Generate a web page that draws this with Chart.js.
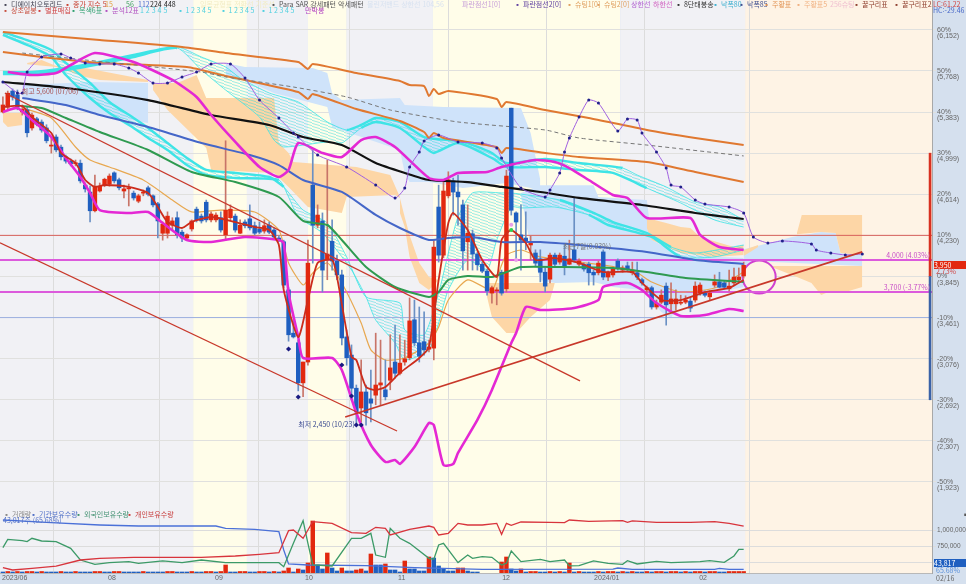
<!DOCTYPE html>
<html lang="ko">
<head>
<meta charset="utf-8">
<title>디에이치오토리드</title>
<script src="https://cdn.jsdelivr.net/npm/chart.js@4"></script>
<style>
html, body { margin: 0; padding: 0; background: #d5e0ee; overflow: hidden; }
#wrap { position: relative; width: 966px; height: 584px; font-family: "Noto Sans CJK KR", "Noto Sans", sans-serif; }
#main { position: absolute; left: 0; top: 0; }
#sub { position: absolute; left: 0; top: 509px; }
.t { position: absolute; font-size: 7px; line-height: 7px; white-space: nowrap; color: #444; }
</style>
</head>
<body>
<div id="wrap">
<canvas id="main" width="966" height="509" style="width:966px;height:509px"></canvas>
<canvas id="sub" width="966" height="75" style="width:966px;height:75px"></canvas>
<div id="labels"></div>
</div>
<script>
// 일봉 시가/고가/저가/종가
const opens = [5385,5430,5580,5545,5385,5405,5235,5320,5290,5235,5065,5150,5055,4965,4925,4900,4905,4700,4635,4460,4645,4700,4710,4815,4750,4645,4665,4625,4550,4625,4675,4600,4525,4250,4250,4325,4395,4260,4205,4290,4475,4410,4540,4375,4375,4395,4235,4395,4410,4250,4355,4385,4320,4290,4270,4325,4280,4205,4170,3720,3315,3225,2850,3045,4700,4325,4365,4000,4175,3990,3860,3280,3110,2800,2615,2765,2700,2735,2830,2785,2875,3045,2940,3045,3085,3440,3225,3235,3165,3175,4495,4045,4600,4740,4635,4515,4170,4245,4055,3960,3895,3690,3710,3885,3730,5420,4440,4235,4205,4140,4065,4010,3885,3820,4045,3980,4035,3960,4095,3960,3955,3960,3885,3880,4075,3840,3860,3990,3905,3945,3880,3880,3815,3720,3740,3560,3605,3755,3590,3590,3595,3605,3615,3625,3690,3690,3655,3765,3795,3785,3730,3785,3815,3850];
const highs = [5525,5580,5600,5590,5450,5430,5375,5335,5310,5265,5140,5170,5075,4980,4945,4935,4935,4720,4690,4795,4720,4765,4805,4825,4765,4700,4710,4645,4615,4655,4690,4610,4540,4355,4450,4395,4450,4280,4245,4375,4495,4430,4560,4450,4440,4450,5115,4515,4430,4375,4375,4515,4355,4355,4375,4355,4300,4225,4185,3740,3440,3250,3045,4185,5030,4515,4440,4935,4375,4045,3905,3345,3205,2830,3065,2830,2970,3315,3250,3065,3300,3390,3300,3250,3645,3625,3560,3515,3250,4185,4700,4750,4825,4765,4795,4560,4515,4280,4075,3980,3915,3755,3740,3905,4840,5420,4450,4515,4450,4225,4095,4095,3925,4065,4065,4065,4140,4185,4580,4010,3970,3980,3905,3990,4095,3895,3935,4010,3945,3980,3980,3980,3830,3755,3755,3625,3720,3785,3785,3720,3670,3665,3645,3795,3785,3710,3710,3860,3885,3805,3905,3925,3925,3980];
const lows = [5375,5405,5495,5405,5355,5150,5215,5255,5195,5095,5000,5010,4935,4905,4880,4880,4720,4635,4355,4450,4635,4685,4690,4720,4655,4580,4505,4560,4535,4600,4600,4495,4205,4185,4205,4280,4205,4170,4185,4270,4355,4345,4355,4355,4355,4260,4185,4375,4260,4245,4300,4280,4235,4245,4250,4245,4195,4170,3740,3240,3270,2775,2720,3015,3970,4300,3700,3815,3905,3815,3205,3015,2690,2450,2485,2455,2485,2645,2645,2690,2785,2895,2925,3015,3065,3195,3045,3110,3140,3065,3980,4020,4580,4420,4325,3905,3905,3905,3905,3880,3670,3595,3580,3670,3700,4420,4000,3905,4095,4000,3945,3795,3700,3785,3945,3960,3860,3955,3980,3945,3895,3765,3765,3860,3815,3805,3840,3905,3885,3895,3860,3815,3765,3700,3540,3540,3590,3390,3515,3530,3580,3590,3515,3605,3670,3655,3625,3745,3740,3730,3710,3765,3795,3830];
const closes = [5450,5560,5525,5430,5410,5190,5355,5270,5215,5115,5075,5030,4965,4925,4900,4905,4740,4665,4460,4690,4690,4755,4785,4740,4675,4665,4675,4580,4600,4635,4615,4515,4365,4335,4410,4365,4235,4205,4235,4365,4375,4365,4375,4430,4420,4280,4465,4475,4280,4325,4320,4300,4250,4260,4320,4260,4215,4185,3765,3300,3280,2850,3045,3970,4325,4420,3905,4055,3990,3860,3270,3085,2800,2580,2765,2570,2660,2830,2850,2720,2990,2940,3035,3075,3430,3225,3100,3160,3185,4120,4045,4645,4750,4635,4590,4085,4250,4055,3955,3895,3710,3740,3720,3690,4785,4465,4355,4185,4175,4160,3970,3885,3755,4045,3960,4045,3945,4010,4000,3990,3915,3880,3860,3970,3840,3880,3915,3925,3925,3915,3905,3840,3785,3740,3560,3595,3670,3580,3635,3635,3605,3625,3550,3755,3765,3670,3690,3795,3745,3745,3755,3840,3840,3950];

// 이동평균선 [봉 번호, 가격]
const ma5 = [[0,5431],[4,5440],[6,5337],[10,5188],[12,5001],[15,4907],[17,4748],[19,4683],[21,4701],[26,4683],[30,4627],[32,4495],[34,4355],[37,4299],[39,4355],[43,4402],[48,4355],[52,4308],[55,4280],[57,4140],[58,3719],[61,3279],[63,3625],[65,3972],[68,4000],[69,3841],[72,3092],[73,3064],[75,2812],[77,2784],[79,2812],[82,2943],[86,3083],[88,3186],[90,3813],[92,4346],[93,4439],[96,4280],[99,4000],[102,3841],[103,4187],[105,4280],[108,4159],[110,4000],[114,4018],[119,3972],[124,3887],[130,3887],[132,3785],[136,3625],[140,3625],[145,3700],[150,3738],[153,3813]];
const ma15 = [[4,5422],[10,5328],[15,5057],[18,4935],[22,4870],[29,4748],[35,4561],[39,4449],[45,4467],[52,4449],[57,4280],[59,3972],[62,3766],[64,3878],[67,3972],[70,3785],[74,3410],[76,3158],[79,3064],[83,3083],[88,3223],[90,3373],[92,3625],[96,3813],[101,3719],[103,3953],[104,4047],[107,4093],[111,4028],[119,3981],[130,3906],[134,3794],[140,3700],[147,3738],[153,3887]];
const ma56 = [[4,5440],[8,5422],[13,5328],[20,5197],[30,5029],[39,4823],[48,4729],[57,4589],[62,4365],[67,4327],[70,4187],[75,3934],[81,3747],[88,3654],[90,3700],[92,3813],[96,3850],[101,3841],[104,3887],[107,3934],[115,3934],[126,3925],[133,3887],[141,3831],[153,3794]];
const ma112 = [[4,5515],[13,5450],[20,5356],[30,5244],[41,5094],[51,4982],[57,4888],[62,4748],[70,4636],[77,4421],[82,4299],[88,4187],[92,4206],[97,4215],[103,4168],[111,4168],[119,4140],[133,4075],[143,4000],[153,3962]];
const ma224 = [[0,5665],[13,5609],[30,5496],[43,5356],[55,5263],[62,5150],[70,5075],[77,4907],[83,4814],[88,4748],[96,4729],[103,4683],[111,4636],[119,4580],[132,4514],[143,4439],[153,4383]];
const ma448 = [[0,6132],[20,6058],[37,5992],[46,5936],[61,5852],[63,5787],[64,5833],[73,5749],[82,5674],[84,5637],[87,5627],[88,5534],[89,5599],[90,5553],[92,5581],[102,5506],[103,5431],[104,5478],[112,5403],[121,5328],[133,5216],[143,5141],[153,5075]];
const envMid = [[0,5945],[8,5899],[20,5843],[38,5805],[46,5721],[50,5684],[61,5571],[63,5506],[64,5553],[73,5412],[82,5300],[87,5197],[88,5141],[89,5188],[91,5141],[102,5057],[103,5001],[104,5047],[112,5001],[119,4963],[133,4916],[143,4823],[153,4729]];
const dashedLine = [[4,5936],[17,5871],[41,5758],[46,5712],[60,5618],[71,5525],[80,5403],[94,5291],[112,5216],[119,5141],[133,5075],[153,4973]];

// 볼린저 상/하한
const bbUpper = [[1,5758],[6,5730],[11,5749],[14,5824],[19,5936],[27,5852],[35,5684],[40,5525],[43,5356],[48,5104],[53,4870],[57,4776],[59,4842],[61,5094],[66,5001],[70,4963],[74,5122],[77,5150],[81,5057],[88,4767],[91,4748],[94,4814],[100,4823],[103,4870],[110,4935],[114,4916],[117,4860],[121,4748],[126,4608],[129,4580],[133,4393],[142,4393],[144,4234],[148,4121],[153,4093]];
const bbLower = [[0,5384],[3,5422],[6,5309],[10,5150],[13,4954],[16,4776],[18,4627],[20,4467],[26,4439],[30,4449],[33,4346],[38,4187],[43,4168],[50,4215],[57,4187],[58,4159],[59,3691],[61,3279],[62,3083],[68,3083],[70,2971],[73,2568],[76,2269],[79,2110],[81,2129],[82,2091],[85,2250],[88,2475],[89,2456],[91,2082],[93,2091],[94,2194],[98,2503],[101,2784],[105,3223],[106,3317],[108,3560],[111,3532],[118,3551],[123,3625],[124,3747],[129,3785],[132,3719],[135,3597],[140,3476],[145,3485],[150,3541],[153,3523]];

// Para SAR (점선)
const paraSar = [[0,5665],[3,5562],[4,5562],[5,5758],[8,5899],[12,5927],[14,5889],[17,5843],[20,5833],[23,5833],[26,5796],[28,5749],[31,5656],[34,5656],[37,5712],[40,5758],[43,5833],[47,5833],[50,5702],[53,5496],[57,5328],[60,5188],[61,5150],[65,4982],[71,4870],[77,4701],[81,4580],[83,4673],[84,4870],[86,5010],[87,5113],[90,5169],[94,5104],[99,5094],[102,5047],[103,4954],[107,4673],[112,4589],[113,4655],[115,4814],[116,5010],[117,5141],[119,5337],[121,5496],[123,5468],[127,5206],[129,5319],[131,5309],[132,5188],[135,5010],[137,4860],[138,4701],[140,4683],[143,4561],[145,4523],[150,4495],[153,4439],[155,4215],[158,4159],[161,4178],[167,4150],[168,4093],[171,4065],[174,4047],[177.5,4056]];

// 옥색 리본 두 묶음의 바깥선
const ribbonLongA = [[0,5758],[6,5758],[13,5796],[20,5852],[27,5917],[36,5992],[41,5899],[46,5805],[49,5702],[55,5562],[61,5478],[67,5291],[71,5216],[74,5263],[77,5328],[82,5291],[87,5150],[95,5104],[101,5001],[104,4907],[112,4944],[119,4907],[128,4860],[131,4795],[137,4683],[143,4542],[148,4495],[153,4374]];
const ribbonLongB = [[0,5740],[6,5740],[13,5777],[20,5833],[27,5899],[36,5983],[41,5777],[46,5590],[53,5337],[56,5122],[58,5057],[67,5104],[70,5094],[74,5235],[77,5291],[82,5235],[87,5057],[89,5001],[94,5094],[101,4954],[104,4870],[112,4870],[119,4842],[126,4814],[133,4673],[140,4533],[147,4374],[153,4308]];
const ribbonShortA = [[0,6132],[6,6039],[10,5964],[13,5843],[18,5656],[22,5478],[27,5328],[30,5235],[34,5094],[38,4954],[42,4842],[48,4814],[55,4776],[58,4683],[62,4467],[67,4346],[71,4028],[75,3654],[82,3597],[83,3345],[87,3300],[90,3691],[92,4065],[94,4402],[97,4627],[103,4627],[105,4627],[115,4561],[122,4440],[126,4355],[133,4252],[138,4121],[143,4065],[153,4140]];
const ribbonShortB = [[0,6105],[6,5992],[10,5899],[13,5730],[18,5515],[22,5375],[27,5235],[30,5141],[34,5029],[38,4888],[42,4795],[48,4767],[57,4748],[59,4589],[61,4402],[66,4252],[72,3906],[75,3654],[77,3438],[81,3223],[83,3064],[88,3158],[90,3410],[92,3719],[96,4000],[100,3906],[102,4187],[105,4495],[107,4486],[114,4495],[121,4421],[125,4327],[134,4215],[140,4028],[147,4028],[153,4093]];
// 리본 선이 두껍게 뭉쳐 보이는 구간 [시작 봉, 끝 봉]
const longThick = [[0,36],[71,128]];
const shortThick = [[0,57],[115,135]];

// 일목 구름 조각 (윗선, 아랫선)
const cloudOrange1Top = [[0,5375],[4,5375]];
const cloudOrange1Bot = [[0,5291],[1,5244],[4,5263]];
const cloudOrange2Top = [[5,5843],[8,5871],[11,5815],[17,5796],[30,5684]];
const cloudOrange2Bot = [[5,5830],[11,5805],[17,5712],[20,5684],[30,5665]];
const cloudBlue1Top = [[4,5637],[18,5665],[30,5655]];
const cloudBlue1Bot = [[4,5515],[12,5450],[20,5356],[30,5281]];
const cloudOrange3Top = [[31,5655],[36,5655],[40,5730],[42,5515],[56,5515],[57,5094],[59,5001],[60,4916],[73,4870],[80,4795],[82,4589]];
const cloudOrange3Bot = [[31,5590],[34,5403],[42,5047],[43,4842],[56,4814],[59,4683],[63,4495],[70,4440],[71,4589],[81,4608],[82,4580]];
const cloudOrange4Top = [[82,4580],[83,4400],[84,4230],[86,3972],[88,3841],[90,3813]];
const cloudOrange4Bot = [[82,4440],[83,4308],[84,4028],[86,3785],[88,3719],[90,3810]];
const cloudOrange5Top = [[100,3785],[114,3785]];
const cloudOrange5Bot = [[100,3654],[101,3466],[104,3317],[106,3317],[109,3466],[113,3625],[114,3785]];
const cloudBlue2Top = [[46,5843],[50,5805],[64,5796],[67,5749],[68,5562],[70,5496],[82,5515],[83,5450],[91,5431],[107,5422],[109,5188],[111,4748]];
const cloudBlue2Bot = [[46,5721],[50,5684],[56,5562],[67,5431],[68,5244],[71,5197],[82,5029],[83,4814],[84,4729],[88,4729],[95,4673],[104,4720],[111,4655]];
const cloudBlue3Top = [[107,4627],[111,4700],[122,4700],[123,4590],[133,4561],[134,4187],[140,4047],[153,4018]];
const cloudBlue3Bot = [[107,4600],[109,4121],[111,3813],[114,3785],[122,3794],[126,3747],[132,3719],[136,3513],[138,3457],[140,3625],[153,3747]];
const cloudOrange6Top = [[133,4393],[137,4346],[140,4308],[142,4299],[144,4215],[151,4121],[153,4140]];
const cloudOrange6Bot = [[133,4300],[134,4187],[140,4065],[147,4028],[153,4047]];
const cloudOrange7Top = [[153,4093],[156,4140]];
const cloudOrange7Bot = [[153,4037],[156,4121]];
const cloudBlue4Top = [[153,4100],[155,4121],[163,4215],[169,4261],[172,4252],[173,4065],[177.5,4047]];
const cloudBlue4Bot = [[153,3760],[155,4000],[159,3981],[177.5,3944]];
const cloudOrange8Top = [[164,4252],[165,4420],[177.5,4420]];
const cloudOrange8Bot = [[164,4240],[169,4261],[172,4252],[173,4065],[177.5,4047]];
const cloudOrange9Top = [[159,3944],[177.5,3944]];
const cloudOrange9Bot = [[159,3930],[163,3860],[167,3785],[169,3672],[170,3690],[174,3700],[177.5,3747]];

// 추세선, 수평선
const trendLow = [[-0.6,4160],[81.4,2400]];
const trendHigh = [[0.4,5562],[119.2,2868]];
const trendUp = [[70.7,2531],[177.5,4075]];
const xEnd = 191.9;
const resist4000 = [[-0.6,4000],[xEnd,4000]];
const support3700 = [[-0.6,3700],[xEnd,3700]];
const pct10Line = [[-0.6,4230],[xEnd,4230]];
const pctM10Line = [[-0.6,3461],[xEnd,3461]];
const circleMark = [[156.2,3840]];
const starMarks = [[59,3167],[61,2718],[70,3017],[72,2727],[73,2456],[74,2456]];
const pinkMarks = [[105,4330],[106,4000]];
const greenMarks = [[105,4280]];

// 축
const tickPct = [60,50,40,30,20,10,0,-10,-20,-30,-40,-50];
const tickPrice = [6152,5768,5383,4999,4614,4230,3845,3461,3076,2692,2307,1923];
const monthTicks = [-0.6,21.3,43.4,62,81.2,102.7,121.7,143.4];
const monthLabels = ['2023/06','08','09','10','11','12','2024/01','02'];
const bandEdges = [-0.6,39.3,50.4,63,71,88.8,127.5,153.3,xEnd];
const bandColors = ['#f1f1f5','#fffde9','#f1f1f5','#fffde9','#f1f1f5','#fffde9','#f1f1f5','#fef3e5'];

// 거래량 / 보유수량 (천주)
const volRed = [[1,15],[3,15],[5,15],[6,15],[8,15],[12,15],[15,15],[19,15],[20,15],[23,15],[24,15],[29,15],[34,15],[35,15],[39,15],[42,15],[43,15],[45,15],[46,80],[49,15],[50,15],[53,15],[54,15],[56,15],[58,20],[59,50],[61,40],[63,100],[64,520],[67,200],[70,50],[73,30],[74,40],[76,190],[79,90],[83,120],[88,160],[94,50],[95,50],[103,110],[104,160],[107,40],[109,15],[110,15],[113,15],[115,15],[117,100],[119,15],[123,15],[125,15],[126,15],[128,15],[130,15],[133,15],[135,15],[136,15],[138,15],[139,15],[141,15],[143,15],[144,15],[146,15],[147,15],[150,15],[151,15],[152,15],[153,15]];
const volBlue = [[0,10],[2,10],[4,10],[7,10],[9,10],[10,10],[11,10],[13,10],[14,10],[16,10],[17,10],[18,10],[21,10],[22,10],[25,10],[26,10],[27,10],[28,10],[30,10],[31,10],[32,10],[33,10],[36,10],[37,10],[38,10],[40,10],[41,10],[44,10],[47,10],[48,10],[51,10],[52,10],[55,10],[57,10],[60,10],[62,30],[65,80],[66,40],[68,50],[69,20],[71,20],[72,20],[75,20],[77,80],[78,80],[80,30],[81,30],[82,10],[84,40],[85,40],[86,20],[87,20],[89,150],[90,70],[91,40],[92,20],[93,20],[96,20],[97,10],[98,10],[105,40],[106,20],[108,10],[111,10],[112,10],[114,10],[116,10],[118,10],[120,10],[121,10],[122,10],[124,10],[127,10],[129,10],[131,10],[132,10],[134,10],[137,10],[140,10],[142,10],[145,10],[148,10],[149,10]];
const instHold = [[0,1167],[10,1125],[20,1089],[28,1073],[38,1073],[44,1073],[46,1037],[52,1021],[57,985],[58,698],[59,480],[63,464],[75,454],[85,422],[99,396],[126,401],[127,417],[130,396],[147,396],[148,412],[150,396],[153,396]];
const foreignHold = [[0,735],[1,865],[4,844],[5,829],[6,881],[8,839],[11,829],[14,724],[16,542],[19,475],[22,501],[26,516],[28,490],[33,527],[37,501],[41,542],[46,501],[52,501],[57,501],[58,438],[59,620],[60,803],[62,1157],[63,803],[64,464],[68,449],[72,881],[74,881],[76,959],[77,620],[79,584],[80,1037],[82,881],[84,803],[88,568],[89,553],[90,777],[91,803],[94,501],[96,620],[97,568],[99,594],[101,584],[103,464],[104,490],[105,683],[107,516],[111,553],[113,516],[116,542],[117,449],[119,454],[122,527],[125,490],[128,475],[129,532],[131,480],[135,521],[138,501],[144,516],[146,532],[149,506],[151,605],[152,709],[153,709]];
const indivHold = [[0,422],[2,386],[6,412],[11,448],[16,542],[20,568],[27,584],[34,584],[41,584],[48,605],[53,631],[57,657],[58,829],[59,1001],[60,1011],[62,881],[63,1011],[64,1141],[68,1115],[72,969],[75,959],[77,1053],[79,1037],[80,933],[84,1021],[88,1073],[89,1053],[90,933],[92,959],[94,1115],[96,1089],[99,1089],[102,1115],[103,943],[104,1115],[105,1084],[107,1136],[113,1131],[116,1126],[117,1167],[121,1146],[128,1157],[129,1131],[130,1152],[135,1131],[142,1131],[147,1141],[150,1115],[153,1073]];
const subTicks = [500,750,1000];

// 차트 안 글자
const noteTexts = ['최고 5,600 (07/06)','최저 2,450 (10/23)','최근7일(0.03%)','4,000 (4.03%)','3,700 (-3.77%)'];
const noteBars = [3.9,61,115.7,191.5,191.5];
const notePrices = [5580,2465,4130,4047,3747];
const noteColors = ['#a85050','#3a4a90','#777777','#c850c8','#c850c8'];
const noteAligns = ['left','left','left','right','right'];

// 화면 위쪽 범례 [x, 줄, 글자, 색]
const legendItems = [
    [2,0,'▪ 디에이치오토리드','#445'],[64,0,'▪ 종가 지수 5','#c84030'],[105,0,'15','#e0a040'],[126,0,'56','#40a060'],[138,0,'112','#5070d0'],[150,0,'224','#222'],[164,0,'448','#222'],
    [200,0,'일목균형표 전환선 기준선','#f2ecc4'],[270,0,'▪ Para SAR 강세패턴 악세패턴','#555'],[367,0,'볼린저밴드 상한선 104,56','#d8e2f0'],[462,0,'파란점선1[0]','#c8a0d8'],
    [514,0,'▪ 파란점선2[0]','#6040a0'],[566,0,'▪ 슈팅1[0]','#e0a060'],[595,0,'▪ 슈팅2[0]','#e0a060'],[631,0,'상한선','#b060d0'],[653,0,'하한선','#d060c0'],[675,0,'▪ 8단태봉송','#333'],
    [712,0,'▪ 낙폭80','#40b0d0'],[738,0,'▪ 낙폭85','#405090'],[763,0,'▪ 주황표','#e09050'],[795,0,'▪ 주황표5','#f0b080'],[830,0,'256슈팅','#f0c0d0'],[853,0,'▪ 꿀구리표','#904030'],[893,0,'▪ 꿀구리표2','#904030'],
    [2,1,'▪ 상초일봉','#c85040'],[36,1,'▪ 별표매집','#d04040'],[70,1,'▪ 옥색6표','#30a070'],[103,1,'▪ 분석12표','#b050c0'],[140,1,'1 2 3 4 5','#50d0e0'],[177,1,'▪ 1 2 3 4 5','#50d0e0'],[220,1,'▪ 1 2 3 4 5','#50d0e0'],[260,1,'▪ 1 2 3 4 5','#50d0e0'],[305,1,'만박봉','#b040c0'],
];

function xy(pairs) {
    return pairs.map(p => ({ x: p[0], y: p[1] }));
}

function hatch() {
    const c = document.createElement('canvas');
    c.width = 8;
    c.height = 3;
    const g = c.getContext('2d');
    g.strokeStyle = 'rgba(40,215,220,0.65)';
    g.lineWidth = 0.7;
    g.beginPath();
    g.moveTo(-1, 0);
    g.lineTo(9, 3);
    g.stroke();
    return g.createPattern(c, 'repeat');
}

function line(pairs, color, width, extra) {
    return Object.assign({
        type: 'line',
        data: xy(pairs),
        borderColor: color,
        borderWidth: width,
        pointRadius: 0,
        fill: false,
        tension: 0.2
    }, extra || {});
}

function ribbonEdge(pairs, thickRanges, extra) {
    return line(pairs, CYAN, 1, Object.assign({
        segment: {
            borderWidth(ctx) {
                const x = ctx.p0.parsed.x;
                return thickRanges.some(r => x >= r[0] && x < r[1]) ? 2.4 : 0.8;
            }
        }
    }, extra || {}));
}

function marks(pairs, color, style, radius) {
    return {
        type: 'line',
        data: xy(pairs),
        showLine: false,
        pointStyle: style,
        pointRadius: radius,
        pointBackgroundColor: color,
        pointBorderColor: color,
        pointBorderWidth: 0
    };
}

// 위 선과 아래 선 사이를 채운다
function patch(top, bottom, color) {
    return [
        { type: 'line', data: xy(top), borderWidth: 0, pointRadius: 0, backgroundColor: color, fill: '+1' },
        { type: 'line', data: xy(bottom), borderWidth: 0, pointRadius: 0, fill: false }
    ];
}

function bars(pairs, color, thick) {
    return {
        type: 'bar',
        yAxisID: 'yv',
        data: xy(pairs),
        backgroundColor: color,
        barThickness: thick,
        grouped: false,
        borderWidth: 0,
        minBarLength: 1
    };
}

// 눈금 글자 때문에 그림 영역이 줄어들지 않게 한다
function noPadding(s) {
    s.paddingTop = 0;
    s.paddingBottom = 0;
    s.paddingLeft = 0;
    s.paddingRight = 0;
}

const bandPlugin = {
    id: 'bands',
    beforeDraw(chart) {
        const a = chart.chartArea, x = chart.scales.x, g = chart.ctx;
        bandColors.forEach(function (c, i) {
            const l = x.getPixelForValue(bandEdges[i]);
            const r = x.getPixelForValue(bandEdges[i + 1]);
            g.fillStyle = c;
            g.fillRect(l, a.top, r - l, a.bottom - a.top);
        });
    }
};

const notePlugin = {
    id: 'notes',
    afterDatasetsDraw(chart) {
        const g = chart.ctx;
        g.save();
        g.font = '7px "Noto Sans CJK KR"';
        g.textBaseline = 'middle';
        noteTexts.forEach(function (t, i) {
            g.fillStyle = noteColors[i];
            g.textAlign = noteAligns[i];
            g.fillText(t, chart.scales.x.getPixelForValue(noteBars[i]), chart.scales.y.getPixelForValue(notePrices[i]));
        });
        g.restore();
    }
};

const ribbonFill = hatch();
const CLOUD_BLUE = '#cfe3fa';
const CLOUD_ORANGE = '#fdd6a6';
const CYAN = '#3ee4e6';
const RED_LINE = '#c8382a';
const MAGENTA = '#e428d4';

const candleWicks = {
    type: 'bar',
    data: opens.map((o, i) => ({ x: i, y: [lows[i], highs[i]] })),
    backgroundColor: opens.map((o, i) => closes[i] >= o ? '#c87468' : '#6a90c4'),
    barThickness: 1,
    grouped: false,
    borderWidth: 0
};
const candleBodies = {
    type: 'bar',
    data: opens.map((o, i) => ({ x: i, y: [Math.min(o, closes[i]), Math.max(o, closes[i])] })),
    backgroundColor: opens.map((o, i) => closes[i] >= o ? '#e2280f' : '#1f5fc0'),
    barThickness: 3.8,
    grouped: false,
    borderWidth: 0,
    minBarLength: 1
};

const mainSets = [].concat(
    patch(cloudBlue1Top, cloudBlue1Bot, CLOUD_BLUE),
    patch(cloudBlue2Top, cloudBlue2Bot, CLOUD_BLUE),
    patch(cloudBlue3Top, cloudBlue3Bot, CLOUD_BLUE),
    patch(cloudBlue4Top, cloudBlue4Bot, CLOUD_BLUE),
    patch(cloudOrange1Top, cloudOrange1Bot, CLOUD_ORANGE),
    patch(cloudOrange2Top, cloudOrange2Bot, CLOUD_ORANGE),
    patch(cloudOrange3Top, cloudOrange3Bot, CLOUD_ORANGE),
    patch(cloudOrange4Top, cloudOrange4Bot, CLOUD_ORANGE),
    patch(cloudOrange5Top, cloudOrange5Bot, CLOUD_ORANGE),
    patch(cloudOrange6Top, cloudOrange6Bot, CLOUD_ORANGE),
    patch(cloudOrange7Top, cloudOrange7Bot, CLOUD_ORANGE),
    patch(cloudOrange8Top, cloudOrange8Bot, CLOUD_ORANGE),
    patch(cloudOrange9Top, cloudOrange9Bot, CLOUD_ORANGE),
    [
        ribbonEdge(ribbonLongA, longThick, { fill: '+1', backgroundColor: ribbonFill }),
        ribbonEdge(ribbonLongB, longThick),
        ribbonEdge(ribbonShortA, shortThick, { fill: '+1', backgroundColor: ribbonFill }),
        ribbonEdge(ribbonShortB, shortThick),
        line(pct10Line, '#d8605a', 1, { tension: 0 }),
        line(pctM10Line, '#9db0e0', 1, { tension: 0 }),
        line(circleMark, MAGENTA, 0, { showLine: false, pointRadius: 16.5, pointBorderWidth: 2, pointBackgroundColor: '#fef3e5', pointBorderColor: '#d040d0' }),
        line(resist4000, '#dc5adc', 2, { tension: 0 }),
        line(support3700, '#dc5adc', 2, { tension: 0 }),
        line(ma448, '#e07830', 2),
        line(envMid, '#e07830', 2),
        line(dashedLine, '#777777', 1, { borderDash: [4, 3] }),
        line(ma15, '#e8a850', 1.2),
        candleWicks,
        candleBodies,
        line(ma56, '#2e9a50', 2),
        line(ma112, '#4466c8', 2),
        line(ma224, '#111111', 2.2),
        line(bbUpper, MAGENTA, 2.6),
        line(bbLower, MAGENTA, 2.6),
        line(ma5, '#cc2c1c', 1.8),
        line(paraSar, '#a060e0', 1, { pointRadius: 1.5, pointBackgroundColor: '#20208a', pointBorderWidth: 0 }),
        line(trendLow, RED_LINE, 1.3, { tension: 0 }),
        line(trendHigh, RED_LINE, 1.3, { tension: 0 }),
        line(trendUp, RED_LINE, 1.7, { tension: 0 }),
        marks(starMarks, '#1a1a80', 'rectRot', 2.6),
        marks(pinkMarks, '#e8a0e8', 'circle', 2),
        marks(greenMarks, '#30d050', 'circle', 2),
        {
            type: 'bar',
            data: [{ x: 191.5, y: [3845, 4999] }, { x: 191.5, y: [2692, 3845] }],
            backgroundColor: ['#d83020', '#3a62a8'],
            barThickness: 2,
            grouped: false,
            borderWidth: 0
        }
    ]
);
mainSets.forEach((d, i) => { d.order = -i; });

new Chart(document.getElementById('main'), {
    type: 'line',
    data: { datasets: mainSets },
    plugins: [bandPlugin, notePlugin],
    options: {
        responsive: false,
        animation: false,
        events: [],
        layout: { padding: 0, autoPadding: false },
        plugins: { legend: { display: false }, tooltip: { enabled: false } },
        scales: {
            x: {
                type: 'linear',
                offset: false,
                min: -0.6,
                max: xEnd,
                border: { display: false },
                grid: { color: '#dcdcdc', drawTicks: false },
                ticks: { display: false },
                afterBuildTicks(s) { s.ticks = monthTicks.map(v => ({ value: v })); },
                afterFit(s) { s.height = 0; noPadding(s); }
            },
            y: {
                position: 'right',
                min: 1670,
                max: 6432,
                border: { color: '#a8a8a8' },
                grid: { color: '#e0e0de', tickLength: 4 },
                ticks: {
                    autoSkip: false,
                    padding: 1,
                    color: '#666',
                    font: { size: 7, family: '"Liberation Sans"', lineHeight: 0.88 },
                    callback(v, i) {
                        return ['', tickPct[i] + '%', '(' + tickPrice[i].toLocaleString('en-US') + ')'];
                    }
                },
                afterBuildTicks(s) { s.ticks = tickPrice.map(v => ({ value: v })); },
                afterFit(s) { s.width = 34; noPadding(s); }
            }
        }
    }
});

const subSets = [
    bars(volRed, '#e2280f', 3.8),
    bars(volBlue, '#1f5fc0', 3.8),
    line(instHold, '#4a70d8', 1.3, { tension: 0 }),
    line(foreignHold, '#3c9a68', 1.3, { tension: 0 }),
    line(indivHold, '#d8343c', 1.3, { tension: 0 })
];
subSets.forEach((d, i) => { d.order = -i; });

new Chart(document.getElementById('sub'), {
    type: 'line',
    data: { datasets: subSets },
    plugins: [bandPlugin],
    options: {
        responsive: false,
        animation: false,
        events: [],
        layout: { padding: 0, autoPadding: false },
        plugins: { legend: { display: false }, tooltip: { enabled: false } },
        scales: {
            x: {
                type: 'linear',
                offset: false,
                min: -0.6,
                max: xEnd,
                border: { color: '#b8b8b8' },
                grid: { color: '#dcdcdc', tickLength: 2 },
                ticks: {
                    autoSkip: false,
                    maxRotation: 0,
                    align: 'start',
                    labelOffset: 2,
                    padding: 0,
                    color: '#666',
                    font: { size: 7, family: '"Liberation Sans"', lineHeight: 1 },
                    callback(v, i) { return monthLabels[i]; }
                },
                afterBuildTicks(s) { s.ticks = monthTicks.map(v => ({ value: v })); },
                afterFit(s) { s.height = 11; noPadding(s); }
            },
            y: {
                position: 'right',
                min: 339,
                max: 1339,
                border: { color: '#a8a8a8' },
                grid: { color: '#dcdcdc', tickLength: 4 },
                ticks: {
                    autoSkip: false,
                    padding: 1,
                    color: '#666',
                    font: { size: 6.5, family: '"Liberation Sans"' },
                    callback(v) { return v === 500 ? '' : (v * 1000).toLocaleString('en-US'); }
                },
                afterBuildTicks(s) { s.ticks = subTicks.map(v => ({ value: v })); },
                afterFit(s) { s.width = 34; noPadding(s); }
            },
            yv: { display: false, min: 0, max: 640 }
        }
    }
});

// --- 글자 ---

function addText(x, y, text, color, css) {
    const el = document.createElement('div');
    el.className = 't';
    el.textContent = text;
    el.style.left = x + 'px';
    el.style.top = y + 'px';
    el.style.color = color;
    if (css) el.style.cssText += css;
    document.getElementById('labels').appendChild(el);
}

legendItems.forEach(function (it) {
    addText(it[0], it[1] === 0 ? 1 : 7, it[2], it[3]);
});
addText(933, 1, 'LC:61.22', '#d04848');
addText(933, 7, 'HC:-29.46', '#4868c8');

addText(934, 261, '3,950', '#fff', 'background:#e2280f;width:32px;height:8px;line-height:8px;');
addText(936, 268, '2.73%', '#d04848');

addText(3, 511, '▪ 거래량', '#888');
addText(30, 511, '▪ 기관보유수량', '#5070c8');
addText(75, 511, '▪ 외국인보유수량', '#409070');
addText(126, 511, '▪ 개인보유수량', '#c84040');
addText(3, 517, '43,017주 (65.68%)', '#5070c8');

addText(961, 511, '▪', '#555', 'font-size:9px;');
addText(934, 559, '43,817', '#fff', 'background:#1f5fc0;width:32px;height:8px;line-height:8px;');
addText(936, 567, '65.68%', '#5a8fd8');
addText(936, 575, '02/16', '#666');
</script>
</body>
</html>
